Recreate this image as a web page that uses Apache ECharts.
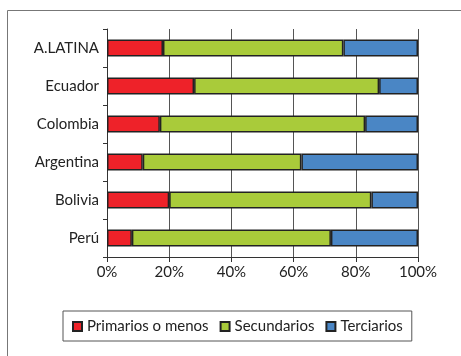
<!DOCTYPE html>
<html>
<head>
<meta charset="utf-8">
<script src="https://cdn.jsdelivr.net/npm/echarts@6/dist/echarts.min.js"></script>
<style>
html,body{margin:0;padding:0;background:#fff;}
#c{width:461px;height:356px;}
</style>
</head>
<body>
<div id="c"></div>
<script>
const categories = ['Perú', 'Bolivia', 'Argentina', 'Colombia', 'Ecuador', 'A.LATINA'];
const primarios = [8, 20, 11.5, 17, 28, 18];
const secundarios = [64, 65, 51, 66, 59.5, 58];
const terciarios = [28, 15, 37.5, 17, 12.5, 24];
const xTicks = ['0%', '20%', '40%', '60%', '80%', '100%'];

const font = 'Lato, "Open Sans", sans-serif';
const chart = echarts.init(document.getElementById('c'), null, {renderer: 'canvas'});
const seriesStyle = {borderColor: '#222', borderWidth: 1.5};
chart.setOption({
  animation: false,
  graphic: [{
    type: 'rect', shape: {x: 7.5, y: 10.5, width: 470, height: 360},
    style: {fill: 'none', stroke: '#777', lineWidth: 1}, silent: true, z: -10
  }],
  grid: {left: 107, right: 43, top: 29, bottom: 99},
  xAxis: {
    type: 'value', min: 0, max: 100, interval: 20,
    axisLine: {show: true, lineStyle: {color: '#333', width: 1}},
    axisTick: {show: true, length: 5, lineStyle: {color: '#333'}},
    axisLabel: {formatter: v => xTicks[Math.round(v / 20)], color: '#222', fontSize: 15, fontFamily: font, margin: 8},
    splitLine: {show: true, lineStyle: {color: '#555', width: 1}}
  },
  yAxis: {
    type: 'category', data: categories,
    axisLine: {show: true, lineStyle: {color: '#333', width: 1}},
    axisTick: {show: true, length: 4, lineStyle: {color: '#333'}},
    axisLabel: {color: '#222', fontSize: 15, fontFamily: font, margin: 8},
    splitLine: {show: false}
  },
  legend: {
    left: 63, top: 311, width: 352,
    padding: [8, 9, 7, 9],
    itemGap: 11,
    itemWidth: 9, itemHeight: 9,
    borderColor: '#555', borderWidth: 1,
    textStyle: {color: '#222', fontSize: 15, fontFamily: font},
    data: [
      {name: 'Primarios o menos', icon: 'rect'},
      {name: 'Secundarios', icon: 'rect'},
      {name: 'Terciarios', icon: 'rect'}
    ]
  },
  series: [
    {name: 'Primarios o menos', type: 'bar', stack: 't', data: primarios, barWidth: 17,
     itemStyle: Object.assign({color: '#EE2229'}, seriesStyle)},
    {name: 'Secundarios', type: 'bar', stack: 't', data: secundarios, barWidth: 17,
     itemStyle: Object.assign({color: '#A9CB3A'}, seriesStyle)},
    {name: 'Terciarios', type: 'bar', stack: 't', data: terciarios, barWidth: 17,
     itemStyle: Object.assign({color: '#4A86C5'}, seriesStyle)}
  ]
});
</script>
</body>
</html>
